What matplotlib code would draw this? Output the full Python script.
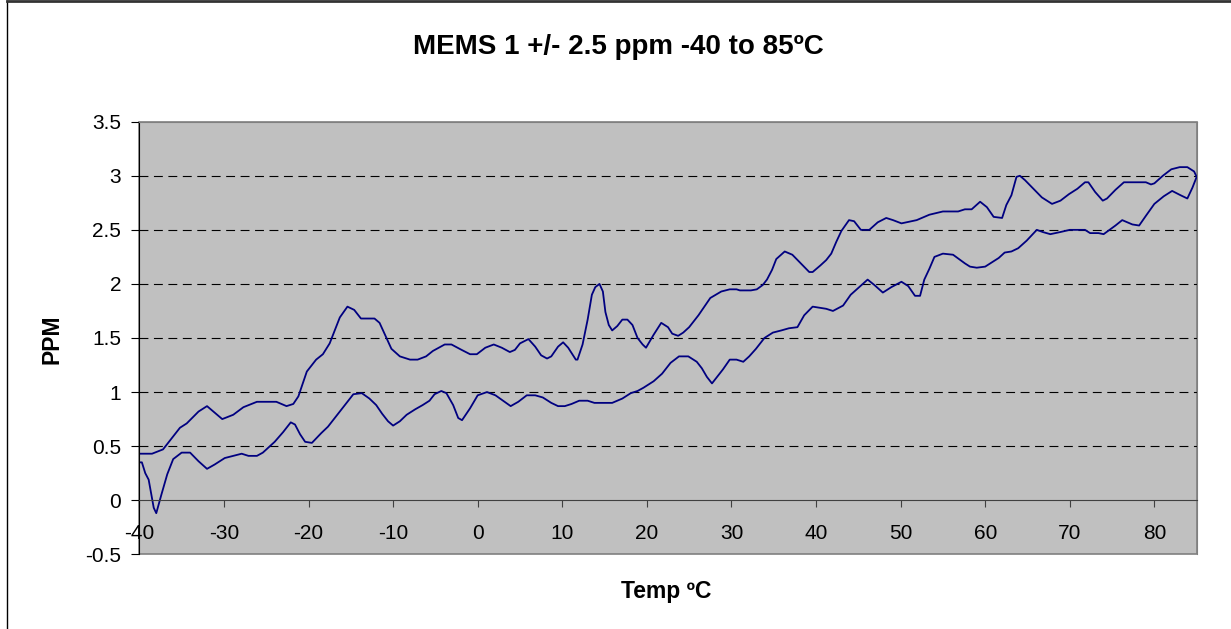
import matplotlib.pyplot as plt
from matplotlib.lines import Line2D
from matplotlib.patches import Rectangle

plt.rcParams['font.family'] = ['Liberation Sans', 'DejaVu Sans']

# upper branch (heating)
temp_up = [-40, -38.5, -37.2, -35.2, -34.4, -33, -32, -30.2, -28.9, -27.7, -26.1, -23.8,
           -22.6, -21.8, -21.2, -20.2, -19.1, -18.3, -17.5, -16.3, -15.4, -14.6, -13.8,
           -12.2, -11.6, -10.2, -9.2, -8.0, -7.1, -6.1, -5.3, -3.9, -3.1, -1.9, -0.9, -0.1,
           0.9, 1.9, 2.85, 3.8, 4.4, 5.0, 6.0, 6.8, 7.5, 8.2, 8.7, 9.5, 10.1, 10.7, 11.6,
           11.8, 12.4, 13.0, 13.5, 13.9, 14.4, 14.8, 15.1, 15.5, 15.9, 16.5, 17.1, 17.7,
           18.3, 18.9, 19.5, 19.9, 20.8, 21.7, 22.5, 23.0, 23.7, 24.3, 25.0, 26.1, 27.5,
           28.8, 29.8, 30.6, 31.0, 32.3, 33.0, 33.7, 34.2, 34.8, 35.3, 36.3, 37.2, 38.2,
           39.2, 39.6, 40.5, 41.2, 41.8, 42.4, 43.0, 43.9, 44.5, 45.3, 46.3, 47.3, 48.3,
           49.1, 50.1, 51.9, 53.4, 55.0, 56.8, 57.6, 58.4, 59.4, 60.2, 61.0, 62.0, 62.5,
           63.1, 63.7, 64.1, 64.7, 65.7, 66.7, 67.9, 68.9, 69.9, 70.9, 71.8, 72.2, 73.0,
           73.9, 74.4, 75.4, 76.4, 79.0, 79.6, 80.0, 81.0, 82.0, 83.0, 83.9, 84.7, 85.0]
ppm_up = [0.43, 0.43, 0.47, 0.67, 0.71, 0.82, 0.87, 0.75, 0.79, 0.86, 0.91, 0.91,
          0.87, 0.89, 0.96, 1.19, 1.30, 1.35, 1.45, 1.69, 1.79, 1.76, 1.68,
          1.68, 1.64, 1.40, 1.33, 1.30, 1.30, 1.33, 1.38, 1.44, 1.44, 1.39, 1.35, 1.35,
          1.41, 1.44, 1.41, 1.37, 1.39, 1.45, 1.49, 1.42, 1.34, 1.31, 1.33, 1.42, 1.46, 1.41, 1.30,
          1.30, 1.44, 1.67, 1.90, 1.97, 2.00, 1.93, 1.74, 1.62, 1.57, 1.61, 1.67, 1.67,
          1.62, 1.50, 1.44, 1.41, 1.53, 1.64, 1.60, 1.54, 1.52, 1.55, 1.60, 1.71, 1.87,
          1.93, 1.95, 1.95, 1.94, 1.94, 1.95, 1.99, 2.04, 2.13, 2.23, 2.30, 2.27, 2.19,
          2.11, 2.11, 2.17, 2.22, 2.28, 2.39, 2.49, 2.59, 2.58, 2.50, 2.50, 2.57, 2.61,
          2.59, 2.56, 2.59, 2.64, 2.67, 2.67, 2.69, 2.69, 2.76, 2.71, 2.62, 2.61, 2.73,
          2.82, 2.99, 3.00, 2.96, 2.88, 2.80, 2.74, 2.77, 2.83, 2.88, 2.94, 2.94, 2.85,
          2.77, 2.79, 2.87, 2.94, 2.94, 2.92, 2.93, 3.00, 3.06, 3.08, 3.08, 3.04, 2.99]

# lower branch (cooling), from 85 back down to -40
temp_down = [85, 84.5, 83.9, 83.1, 82.1, 81.1, 80.0, 79.0, 78.2, 77.4, 76.2, 75.4, 74.0,
             73.4, 72.4, 71.8, 70.0, 68.9, 67.7, 66.8, 66.1, 64.9, 63.9, 63.1, 62.3, 61.6,
             60.0, 59.0, 58.2, 57.6, 56.2, 55.0, 54.0, 53.4, 52.8, 52.3, 51.7, 50.9, 50.1,
             48.9, 47.9, 46.9, 46.1, 45.1, 44.1, 43.2, 42.0, 41.2, 39.6, 38.6, 37.8, 36.8,
             35.9, 34.9, 33.9, 32.9, 32.1, 31.4, 30.6, 29.8, 29.0, 28.2, 27.7, 27.1, 26.5,
             25.9, 24.9, 23.8, 22.8, 21.8, 20.8, 19.6, 18.9, 18.1, 17.1, 15.9, 14.8, 13.8,
             13.0, 12.0, 11.1, 10.3, 9.5, 8.7, 7.7, 6.8, 5.8, 4.8, 3.9, 3.0, 2.1, 1.1, 0.0,
             -0.9, -1.85, -2.3, -2.9, -3.7, -4.3, -5.1, -5.7, -6.5, -7.4, -8.4, -9.2, -10.0,
             -10.6, -11.3, -12.0, -12.8, -13.7, -14.7, -15.7, -16.7, -17.7, -18.5, -19.6,
             -20.4, -21.0, -21.6, -22.1, -23.0, -24.0, -25.4, -26.1, -27.1, -27.9, -28.9,
             -29.9, -31.1, -32.0, -33.0, -34.0, -35.0, -36.0, -36.7, -37.4, -38.0, -38.3,
             -38.9, -39.3, -39.7, -40.0]
ppm_down = [2.99, 2.89, 2.79, 2.82, 2.86, 2.81, 2.74, 2.63, 2.54, 2.55, 2.59, 2.54, 2.46,
            2.47, 2.47, 2.50, 2.50, 2.48, 2.46, 2.48, 2.50, 2.40, 2.33, 2.30, 2.29, 2.24,
            2.16, 2.15, 2.16, 2.19, 2.27, 2.28, 2.25, 2.14, 2.04, 1.89, 1.89, 1.98, 2.02,
            1.97, 1.92, 1.99, 2.04, 1.97, 1.90, 1.80, 1.75, 1.77, 1.79, 1.71, 1.60, 1.59,
            1.57, 1.55, 1.50, 1.40, 1.33, 1.28, 1.30, 1.30, 1.21, 1.13, 1.08, 1.14, 1.22,
            1.28, 1.33, 1.33, 1.27, 1.17, 1.10, 1.04, 1.01, 0.99, 0.94, 0.90, 0.90, 0.90,
            0.92, 0.92, 0.89, 0.87, 0.87, 0.90, 0.95, 0.97, 0.97, 0.91, 0.87, 0.92, 0.97, 1.00, 0.97,
            0.85, 0.74, 0.76, 0.88, 0.99, 1.01, 0.98, 0.92, 0.88, 0.84, 0.79, 0.73, 0.69,
            0.73, 0.80, 0.88, 0.94, 0.99, 0.98, 0.88, 0.78, 0.68, 0.62, 0.53,
            0.54, 0.61, 0.70, 0.72, 0.63, 0.54, 0.44, 0.41, 0.41, 0.43, 0.41,
            0.39, 0.33, 0.29, 0.36, 0.44, 0.44, 0.38, 0.24, 0.05, -0.12, -0.07,
            0.19, 0.25, 0.35, 0.35]

x_ticks = [-40, -30, -20, -10, 0, 10, 20, 30, 40, 50, 60, 70, 80]
y_ticks = [-0.5, 0, 0.5, 1, 1.5, 2, 2.5, 3, 3.5]
y_labels = ['-0.5', '0', '0.5', '1', '1.5', '2', '2.5', '3', '3.5']

fig = plt.figure(figsize=(12.31, 6.29), dpi=100)
ax = fig.add_axes([0.1132, 0.1188, 0.8589, 0.6877])
ax.set_facecolor('#c0c0c0')

ax.plot(temp_up + temp_down, ppm_up + ppm_down, color='#000080', lw=1.3)

ax.set_xlim(-40, 85)
ax.set_ylim(-0.5, 3.5)
ax.set_yticks(y_ticks)
ax.set_yticklabels(y_labels)
ax.set_xticks(x_ticks)
ax.set_xticklabels([str(t) for t in x_ticks])

# dashed gridlines
for v in y_ticks[2:-1]:
    ax.axhline(v, color='black', lw=0.8, ls=(0, (8, 5)), zorder=1)

# spines: x axis sits on y=0, grey frame around plot area
ax.spines['bottom'].set_position(('data', 0))
ax.spines['bottom'].set_color('#404040')
ax.spines['left'].set_color('black')
ax.spines['top'].set_color('#808080')
ax.spines['right'].set_color('#808080')
ax.add_patch(Rectangle((0, 0), 1, 1, transform=ax.transAxes, fill=False,
                       edgecolor='#808080', lw=1.2, clip_on=False, zorder=0))

ax.tick_params(axis='y', direction='out', length=6, pad=7, labelsize=15, color='black')
ax.tick_params(axis='x', direction='out', length=5, pad=12, labelsize=15, color='#404040')

fig.text(0.5025, 0.925, 'MEMS 1 +/- 2.5 ppm -40 to 85ºC', ha='center', va='center',
         fontsize=20, fontweight='bold')
fig.text(0.5415, 0.059, 'Temp ºC', ha='center', va='center', fontsize=16.5, fontweight='bold')
fig.text(0.042, 0.46, 'PPM', ha='center', va='center', rotation=90, fontsize=16.5,
         fontweight='bold')

# chart area border
fig.add_artist(Line2D([0.006, 0.006], [0.0, 0.999], color='black', lw=1))
fig.add_artist(Line2D([0.006, 1.0], [0.998, 0.998], color='#333333', lw=2))

fig.savefig('out.png', dpi=100)
